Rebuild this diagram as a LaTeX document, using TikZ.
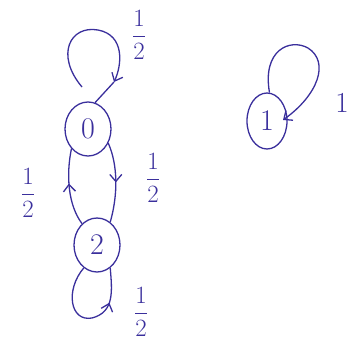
\documentclass[tikz,border=0pt]{standalone}
\usetikzlibrary{shapes.geometric,arrows.meta,decorations.markings}
\definecolor{ink}{HTML}{3A2F9C}
\begin{document}
\begin{tikzpicture}[x=1pt,y=-1pt,
  state/.style={ellipse, draw=ink, line width=1.3pt, minimum width=46pt, minimum height=54pt, inner sep=0pt, text=ink, font=\fontsize{30}{32}\selectfont},
  wire/.style={draw=ink, line width=1.3pt},
  tip/.style={wire, -{Straight Barb[length=7pt,width=12pt]}},
  midtip/.style={wire, postaction={decorate}, decoration={markings, mark=at position #1 with {\arrow{Straight Barb[length=7pt,width=12pt]}}}},
  lbl/.style={text=ink, font=\fontsize{29}{31}\selectfont}]
\useasboundingbox (0,0) rectangle (358,349);
\node[state] (s0) at (88,129) {0};
\node[state] (s2) at (97,245) {2};
\node[state, minimum width=40pt, minimum height=56pt] (s1) at (267,121) {1};
% loop on 0
\coordinate (l0s) at (82,87);
\coordinate (l0a) at (114,82);
\draw[tip] (l0s) .. controls (55,55) and (70,25) .. (98,30) .. controls (125,35) and (122,65) .. (l0a);
\draw[wire] (l0a) -- (s0.75);
% 0 -> 2 and 2 -> 0
\draw[midtip=0.5] (s0.-35) .. controls (118,165) and (118,195) .. (s2.60);
\draw[midtip=0.55] (s2.125) .. controls (68,205) and (66,175) .. (s0.-130);
% loop on 2
\draw[midtip=0.72] (s2.-120) .. controls (65,290) and (70,322) .. (92,318) .. controls (115,312) and (112,290) .. (s2.-60);
% loop on 1
\draw[tip] (s1.85) .. controls (262,50) and (290,38) .. (308,48) .. controls (330,62) and (318,95) .. (283,120);
% labels
\node[lbl] (f0) at (139,35) {$\displaystyle\frac{1}{2}$};
\node[lbl] (f1) at (153,178) {$\displaystyle\frac{1}{2}$};
\node[lbl] (f2) at (28,193) {$\displaystyle\frac{1}{2}$};
\node[lbl] (f3) at (141,312) {$\displaystyle\frac{1}{2}$};
\node[lbl] (f4) at (342,103) {1};
\end{tikzpicture}
\end{document}
